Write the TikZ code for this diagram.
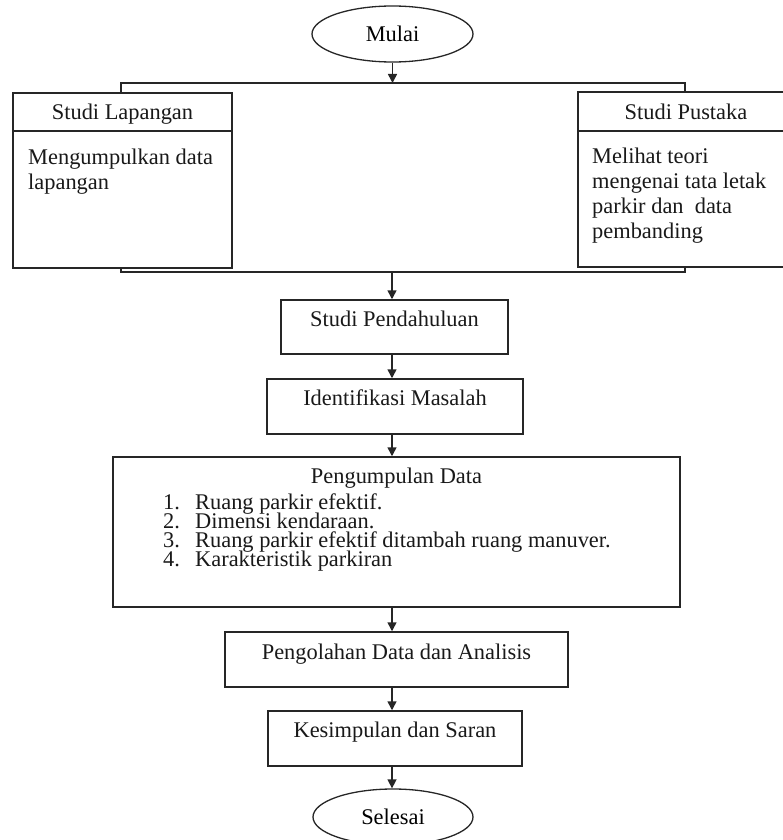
\documentclass[tikz,border=0pt]{standalone}
\usepackage{fontspec}
\setmainfont{Liberation Serif}
\usetikzlibrary{shapes.geometric,arrows.meta}
\begin{document}
\begin{tikzpicture}[x=1pt,y=-1pt,
  every node/.style={font=\fontsize{22.4}{25}\selectfont},
  boxn/.style={draw=black!85,line width=1.5pt,rectangle,inner sep=0pt},
  ovaln/.style={draw=black!85,line width=1.3pt,ellipse,inner sep=0pt,minimum width=161pt,minimum height=56pt},
  txt/.style={inner sep=0pt,anchor=base,text=black!90},
  txtl/.style={inner sep=0pt,anchor=base west,text=black!90},
  conn/.style={draw=black!85,line width=1.5pt},
  arr/.style={conn,-{Triangle[length=9pt,width=9pt]}}]
\useasboundingbox (0,0) rectangle (783,840);
\clip (0,0) rectangle (783,840);
% start
\node[ovaln] (mulai) at (392.5,34) {Mulai};
% two study boxes
\node[boxn,minimum width=219pt,minimum height=38pt] (lapH) at (122.5,112) {};
\node[boxn,minimum width=219pt,minimum height=137pt] (lapB) at (122.5,199.5) {};
\node[boxn,minimum width=216pt,minimum height=39pt] (pusH) at (686,111.5) {};
\node[boxn,minimum width=216pt,minimum height=136pt] (pusB) at (686,199) {};
\node[txt] (lapHt) at (122.5,120) {Studi Lapangan};
\node[txtl] (lapBt1) at (28,164) {Mengumpulkan data};
\node[txtl] (lapBt2) at (28,189) {lapangan};
\node[txt] (pusHt) at (686,120) {Studi Pustaka};
\node[txtl] (pusBt1) at (592,163) {Melihat teori};
\node[txtl] (pusBt2) at (592,188) {mengenai tata letak};
\node[txtl] (pusBt3) at (592,213) {parkir dan\ \ data};
\node[txtl] (pusBt4) at (592,238) {pembanding};
% main boxes
\node[boxn,minimum width=227pt,minimum height=54pt] (pend) at (394.5,327) {};
\node[txt] (pendt) at (394.5,326) {Studi Pendahuluan};
\node[boxn,minimum width=256pt,minimum height=55pt] (iden) at (395,406.5) {};
\node[txt] (ident) at (395,405) {Identifikasi Masalah};
\node[boxn,minimum width=567pt,minimum height=150pt] (kump) at (396.5,532) {};
\node[txt] (kumpt) at (396.5,483) {Pengumpulan Data};
\node[txtl] (n1) at (163,509) {1.};
\node[txtl] (i1) at (195,509) {Ruang parkir efektif.};
\node[txtl] (n2) at (163,528) {2.};
\node[txtl] (i2) at (195,528) {Dimensi kendaraan.};
\node[txtl] (n3) at (163,547) {3.};
\node[txtl] (i3) at (195,547) {Ruang parkir efektif ditambah ruang manuver.};
\node[txtl] (n4) at (163,566) {4.};
\node[txtl] (i4) at (195,566) {Karakteristik parkiran};
\node[boxn,minimum width=343pt,minimum height=55pt] (olah) at (396.5,659.5) {};
\node[txt] (olaht) at (396.5,659) {Pengolahan Data dan Analisis};
\node[boxn,minimum width=254pt,minimum height=55pt] (kes) at (395,738.5) {};
\node[txt] (kest) at (395,737) {Kesimpulan dan Saran};
\node[ovaln,minimum width=160pt] (sel) at (393,817) {Selesai};
% connector coordinates
\coordinate (tl) at (121,83);
\coordinate (tr) at (685,83);
\coordinate (tm) at (392.5,83);
\coordinate (bl) at (121,272);
\coordinate (br) at (685,272);
\coordinate (bm) at (392,272);
\draw[conn] (lapH.north -| tl) -- (tl) -- (tr) -- (pusH.north -| tr);
\draw[arr] (mulai.south) -- (tm);
\draw[conn] (lapB.south -| bl) -- (bl) -- (br) -- (pusB.south -| br);
\draw[arr] (bm) -- (pend.north -| bm);
\draw[arr] (pend.south -| bm) -- (iden.north -| bm);
\draw[arr] (iden.south -| bm) -- (kump.north -| bm);
\draw[arr] (kump.south -| bm) -- (olah.north -| bm);
\draw[arr] (olah.south -| bm) -- (kes.north -| bm);
\draw[arr] (kes.south -| bm) -- (sel.north -| bm);
\end{tikzpicture}
\end{document}
